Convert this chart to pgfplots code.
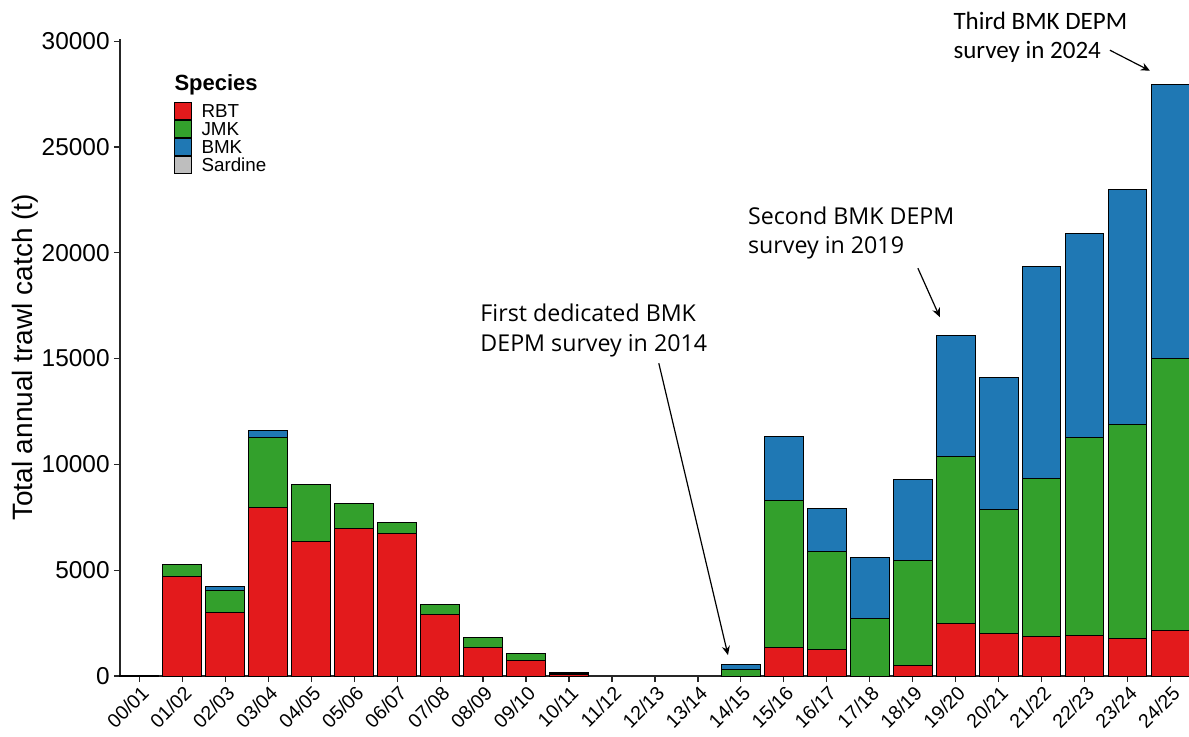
\documentclass[border=0pt]{standalone}
\usepackage{fontspec}
\setmainfont{Liberation Sans}
\newfontfamily\annfont{Open Sans}
\newfontfamily\calfont{Carlito}
\usepackage{pgfplots}
\usepackage{pgfplotstable}
\pgfplotsset{compat=1.18}
\usetikzlibrary{arrows.meta}

\definecolor{rbt}{RGB}{227,26,28}
\definecolor{jmk}{RGB}{51,160,44}
\definecolor{bmk}{RGB}{31,120,180}
\definecolor{sar}{RGB}{190,190,190}

% annual trawl catch (t) by species, season index 0 = 00/01 ... 24 = 24/25
\pgfplotstableread{
idx RBT  JMK   BMK   SAR
0   20   0     0     0
1   4700 580   0     0
2   3020 1000  220   0
3   7950 3340  320   0
4   6360 2700  0     0
5   6960 1200  0     0
6   6740 530   0     0
7   2910 460   0     0
8   1370 460   0     0
9   740  330   0     0
10  90   40    20    0
11  0    0     0     0
12  0    0     0     0
13  0    0     0     0
14  0    330   230   0
15  1340 6960  3020  0
16  1230 4660  2020  0
17  0    2740  2870  0
18  520  4950  3820  0
19  2460 7930  5700  0
20  2000 5890  6210  0
21  1875 7475  10020 0
22  1920 9370  9610  0
23  1770 10120 11090 0
24  2170 12850 12920 0
}\catch

\begin{document}
\begin{tikzpicture}
\begin{axis}[
  scale only axis,
  width=534.5pt, height=318.5pt,
  xmin=-0.45, xmax=24.43,
  ymin=0, ymax=30100,
  clip=false,
  ybar stacked,
  bar width=0.9,
  axis lines*=left,
  axis line style={black!85, line width=0.6pt},
  tick align=outside,
  major tick length=3pt,
  tick style={black!85, line width=0.6pt},
  xtick={0,...,24},
  xticklabels={00/01,01/02,02/03,03/04,04/05,05/06,06/07,07/08,08/09,09/10,10/11,11/12,12/13,13/14,14/15,15/16,16/17,17/18,18/19,19/20,20/21,21/22,22/23,23/24,24/25},
  xticklabel style={xshift=0.3pt, yshift=-1pt, rotate=45, anchor=north east, inner sep=0pt, font=\fontsize{9.8}{11}\selectfont},
  ytick={0,5000,10000,15000,20000,25000,30000},
  scaled y ticks=false,
  yticklabel style={/pgf/number format/1000 sep={}, /pgf/number format/assume math mode=true, font=\fontsize{12.2}{14}\selectfont, inner sep=0pt, xshift=-2pt},
  ylabel={Total annual trawl catch (t)},
  ylabel style={at={(axis description cs:-0.0889,0.5)}, anchor=center, font=\fontsize{14}{16}\selectfont},
  legend style={at={(axis cs:0.81,27110)}, anchor=north west, draw=none, fill=none,
    inner sep=0pt, outer sep=0pt, row sep=-1.25pt,
    font=\fontsize{9.4}{10}\selectfont,
    nodes={inner sep=0pt, outer sep=0pt, text height=6.6pt, text depth=2.45pt},
    /tikz/every odd column/.style={column sep=4.7pt}},
  legend cell align=left,
  legend image code/.code={\draw[#1, draw=black, line width=0.5pt] (0pt,-3.05pt) rectangle (8.5pt,5.45pt);},
]
\addplot[fill=rbt, draw=black, line width=0.5pt] table[x=idx, y=RBT] {\catch};
\addlegendentry{RBT}
\addplot[fill=jmk, draw=black, line width=0.5pt] table[x=idx, y=JMK] {\catch};
\addlegendentry{JMK}
\addplot[fill=bmk, draw=black, line width=0.5pt] table[x=idx, y=BMK] {\catch};
\addlegendentry{BMK}
\addplot[fill=sar, draw=black, line width=0.5pt] table[x=idx, y=SAR] {\catch};
\addlegendentry{Sardine}

% legend heading
\node[anchor=base west, inner sep=0pt, font=\fontsize{11}{12}\selectfont\bfseries] at (axis cs:0.81,27690) {Species};

% survey annotations
\node[anchor=base west, inner sep=0pt, font=\annfont\fontsize{11.6}{13}\selectfont] at (axis cs:7.93,16740) {First dedicated BMK};
\node[anchor=base west, inner sep=0pt, font=\annfont\fontsize{11.6}{13}\selectfont] at (axis cs:7.93,15320) {DEPM survey in 2014};
\draw[-{Stealth[length=4.5pt,width=4pt]}, line width=0.6pt] (axis cs:12.09,14780) -- (axis cs:13.70,990);

\node[anchor=base west, inner sep=0pt, font=\annfont\fontsize{11.6}{13}\selectfont] at (axis cs:14.16,21340) {Second BMK DEPM};
\node[anchor=base west, inner sep=0pt, font=\annfont\fontsize{11.6}{13}\selectfont] at (axis cs:14.16,19970) {survey in 2019};
\draw[-{Stealth[length=4.5pt,width=4pt]}, line width=0.6pt] (axis cs:18.12,19270) -- (axis cs:18.63,16960);

\node[anchor=base west, inner sep=0pt, font=\calfont\fontsize{12.5}{14}\selectfont] at (axis cs:18.94,30550) {Third BMK DEPM};
\node[anchor=base west, inner sep=0pt, font=\calfont\fontsize{12.5}{14}\selectfont] at (axis cs:18.94,29180) {survey in 2024};
\draw[-{Stealth[length=4.5pt,width=4pt]}, line width=0.6pt] (axis cs:22.59,29570) -- (axis cs:23.52,28600);
\end{axis}
\pgfresetboundingbox
\path[use as bounding box, shift={(current axis.south west)}] (-60pt,338pt) rectangle (534.5pt,-30pt);
\end{tikzpicture}
\end{document}
